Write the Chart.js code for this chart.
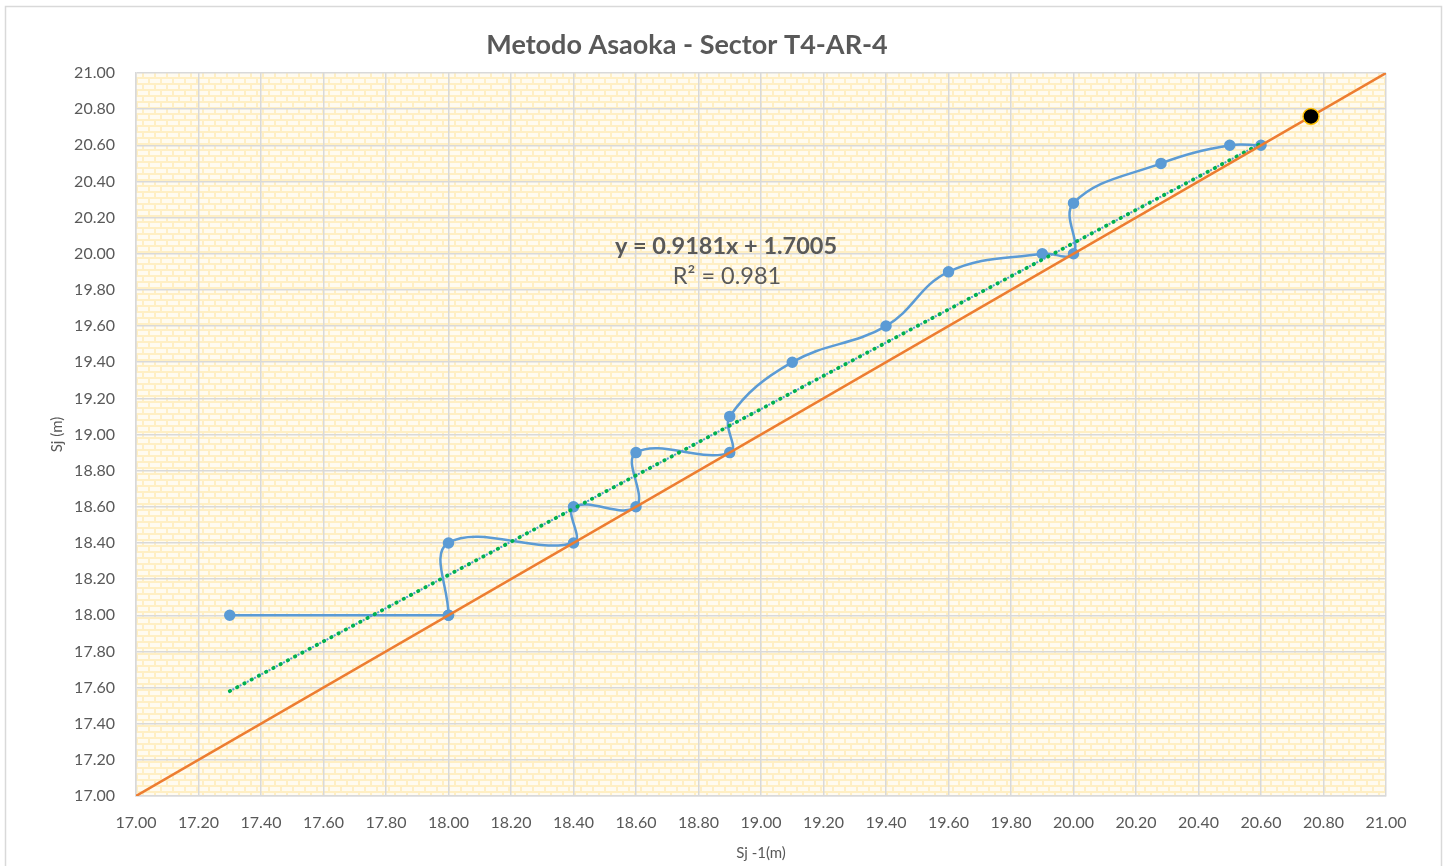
<!DOCTYPE html>
<html>
<head>
<meta charset="utf-8">
<script src="https://cdn.jsdelivr.net/npm/chart.js@4/dist/chart.umd.min.js"></script>
<style>
html,body{margin:0;padding:0;background:#fff;}
#wrap{width:1448px;height:866px;position:relative;}
</style>
</head>
<body>
<div id="wrap"><canvas id="c" width="1448" height="866"></canvas></div>
<script>
// ---- data ----
const chartTitle = "Metodo Asaoka - Sector T4-AR-4";
const xAxisTitle = "Sj -1(m)";
const yAxisTitle = "Sj (m)";
const equationText = "y = 0.9181x + 1.7005";
const r2Text = "R² = 0.981";

const sjPrevX = [17.30, 18.00, 18.00, 18.40, 18.40, 18.60, 18.60, 18.90, 18.90, 19.10, 19.40, 19.60, 19.90, 20.00, 20.00, 20.28, 20.50, 20.60];
const sjY     = [18.00, 18.00, 18.40, 18.40, 18.60, 18.60, 18.90, 18.90, 19.10, 19.40, 19.60, 19.90, 20.00, 20.00, 20.28, 20.50, 20.60, 20.60];

const trendX = [17.30, 20.60];
const trendY = [17.58, 20.61];

const diagX = [17.00, 21.00];
const diagY = [17.00, 21.00];

const finalX = [20.76];
const finalY = [20.76];

const axisMin = 17.00, axisMax = 21.00, axisStep = 0.20;

function pts(xs, ys){ return xs.map((x,i)=>({x:x, y:ys[i]})); }
const asaokaPts = pts(sjPrevX, sjY);

const FONT = "Lato, 'Open Sans', sans-serif";
const TXT = "#595959";
const BLUE = "#5b9bd5";

// brick pattern
function makeBrick(ctx){
  const t = document.createElement('canvas');
  t.width = 12; t.height = 12;
  const g = t.getContext('2d');
  g.fillStyle = '#ffefc4';
  g.fillRect(0,0,12,12);
  g.fillStyle = '#fffbf0';
  g.fillRect(0,1,10,4);
  g.fillRect(6,7,10,4);
  g.fillRect(-6,7,10,4);
  return ctx.createPattern(t,'repeat');
}

const bgPlugin = {
  id:'bg',
  beforeDraw(chart){
    const {ctx, chartArea:a} = chart;
    ctx.save();
    ctx.fillStyle = '#ffffff';
    ctx.fillRect(0,0,chart.width,chart.height);
    ctx.strokeStyle = '#d9d9d9';
    ctx.lineWidth = 1.5;
    ctx.strokeRect(5.5,6.5,1436,880);
    ctx.fillStyle = makeBrick(ctx);
    ctx.fillRect(a.left,a.top,a.right-a.left,a.bottom-a.top);
    ctx.fillStyle = TXT;
    ctx.font = "bold 27px " + FONT;
    ctx.textAlign = 'center';
    ctx.textBaseline = 'middle';
    ctx.fillText(chartTitle, 687, 45);
    ctx.restore();
  },
  afterDraw(chart){
    const {ctx} = chart;
    ctx.save();
    ctx.fillStyle = TXT;
    ctx.textAlign = 'center';
    ctx.textBaseline = 'middle';
    ctx.font = "bold 23.5px " + FONT;
    ctx.fillText(equationText, 726, 246);
    ctx.font = "23.5px " + FONT;
    ctx.fillText(r2Text, 727, 276);
    ctx.restore();
  }
};

new Chart(document.getElementById('c'), {
  type:'scatter',
  data:{
    datasets:[
      { label:'final', data:pts(finalX, finalY), order:0,
        backgroundColor:'#000000', borderColor:'#ffc000', borderWidth:1.5,
        pointRadius:8, pointHoverRadius:8, showLine:false },
      { label:'diag', data:pts(diagX, diagY), order:1, showLine:true,
        borderColor:'#ed7d31', borderWidth:2.5, pointRadius:0, tension:0 },
      { label:'trendGreen', data:pts(trendX, trendY), order:2, showLine:true,
        borderColor:'#00b050', borderWidth:3.8, borderDash:[0.5,7.7], borderCapStyle:'round',
        pointRadius:0, tension:0 },
      { label:'trendBlue', data:pts(trendX, trendY), order:3, showLine:true,
        borderColor:BLUE, borderWidth:2, borderDash:[2,6.2], borderDashOffset:-3,
        pointRadius:0, tension:0 },
      { label:'asaokaStart', data:asaokaPts.slice(0,2), order:4, showLine:true,
        borderColor:BLUE, backgroundColor:BLUE, borderWidth:2.5,
        pointRadius:4.5, pointHoverRadius:4.5, tension:0 },
      { label:'asaoka', data:asaokaPts.slice(1), order:4, showLine:true,
        borderColor:BLUE, backgroundColor:BLUE, borderWidth:2.5,
        pointRadius:4.5, pointHoverRadius:4.5, tension:0.4 }
    ]
  },
  options:{
    responsive:false,
    animation:false,
    events:[],
    layout:{padding:{left:0, right:62, top:73, bottom:0}},
    plugins:{ legend:{display:false}, title:{display:false}, tooltip:{enabled:false} },
    scales:{
      x:{
        type:'linear', min:axisMin, max:axisMax,
        afterFit(s){ s.height = 70; },
        grid:{ color:'#d9d9d9', lineWidth:1.5, drawTicks:false },
        border:{ color:'#d9d9d9', width:1.5 },
        ticks:{ stepSize:axisStep, maxTicksLimit:50, autoSkip:false, padding:17, color:TXT,
          font:{family:FONT, size:16}, maxRotation:0, callback:v=>Number(v).toFixed(2) },
        title:{ display:true, text:xAxisTitle, color:TXT, font:{family:FONT, size:15}, padding:{top:0,bottom:4} }
      },
      y:{
        type:'linear', min:axisMin, max:axisMax,
        afterFit(s){ s.width = 136; },
        grid:{ color:'#d9d9d9', lineWidth:1.5, drawTicks:false },
        border:{ color:'#d9d9d9', width:1.5 },
        ticks:{ stepSize:axisStep, maxTicksLimit:50, autoSkip:false, padding:21, color:TXT,
          font:{family:FONT, size:16}, callback:v=>Number(v).toFixed(2) },
        title:{ display:true, text:yAxisTitle, color:TXT, font:{family:FONT, size:15}, padding:{top:48,bottom:0} }
      }
    }
  },
  plugins:[bgPlugin]
});
</script>
</body>
</html>
